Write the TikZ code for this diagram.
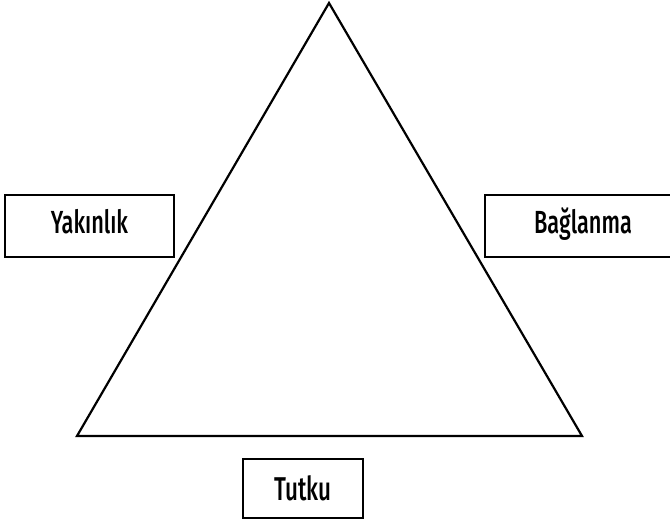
\documentclass[tikz,border=0pt]{standalone}
\usepackage{fontspec}
\setmainfont[FakeStretch=0.68,UprightFont=* Medium]{Fira Sans}
\usepackage{tikz}

\begin{document}
\begin{tikzpicture}[x=1pt, y=1pt, line width=2.2pt,
  label box/.style={draw, minimum height=62pt, inner sep=0pt, text height=22pt, text depth=7pt,
    font=\fontsize{32}{36}\selectfont}]
\useasboundingbox (0,0) rectangle (670,521);
% triangle
\coordinate (top) at (329,518);
\coordinate (left) at (77,85);
\coordinate (right) at (582,85);
\draw[line join=miter] (top) -- (left) -- (right) -- cycle;
% labels
\node[label box, minimum width=169pt] (yakinlik) at (89.5,295) {Yakınlık};
\node[label box, minimum width=196pt] (baglanma) at (583,295) {Bağlanma};
\node[label box, minimum width=120pt, minimum height=59pt, text height=28pt, text depth=3pt,
  font=\fontsize{33}{36}\selectfont] (tutku) at (303,32.5) {Tutku};
\end{tikzpicture}
\end{document}
